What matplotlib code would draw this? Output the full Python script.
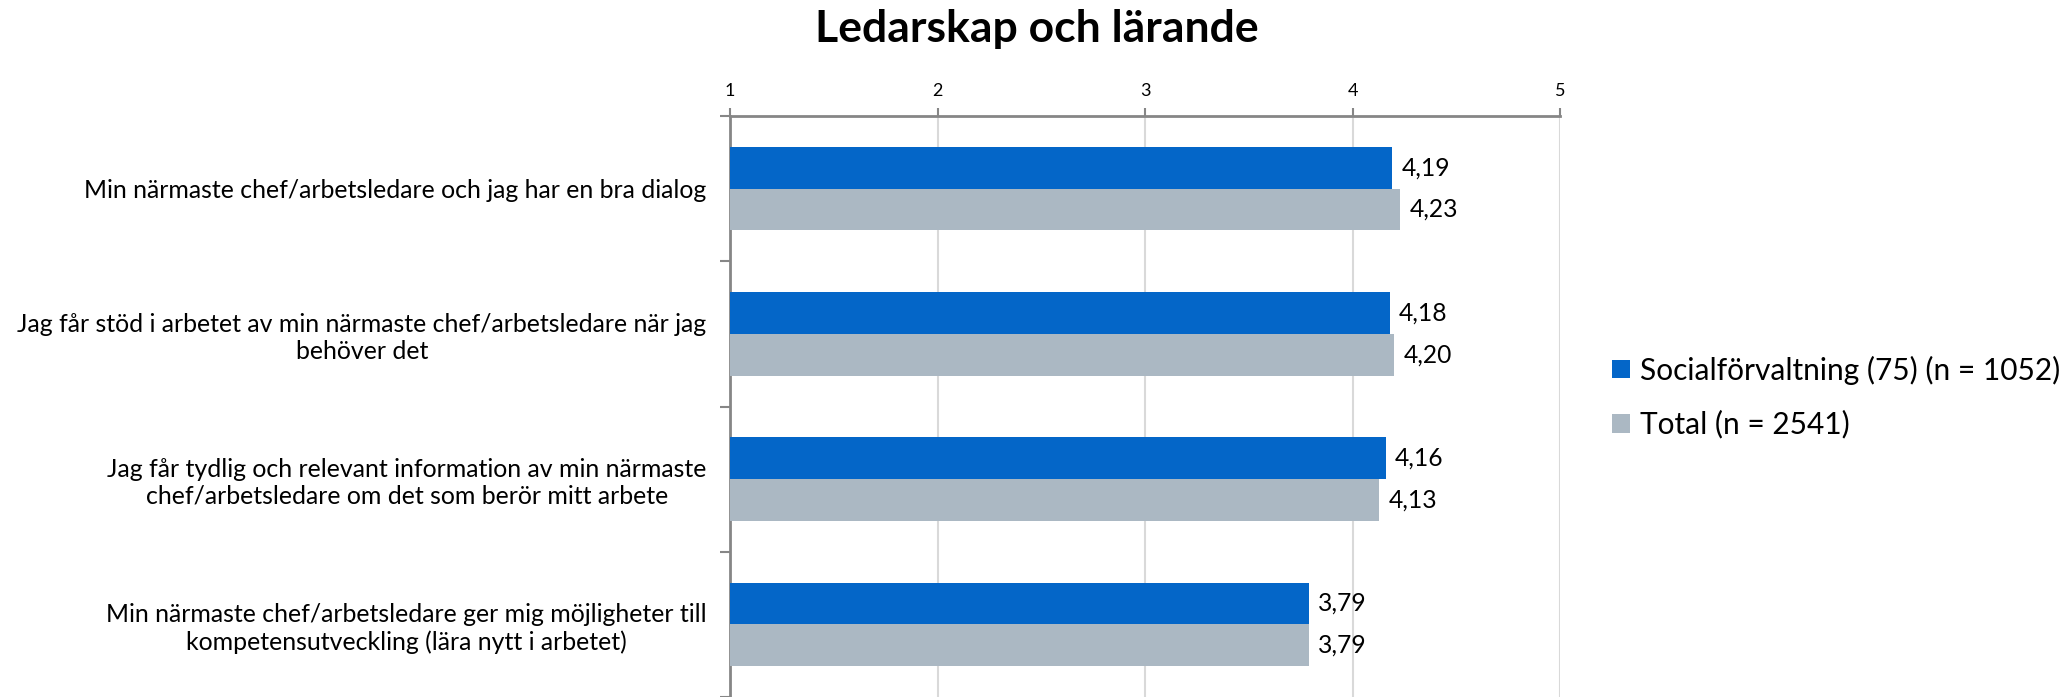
import matplotlib
matplotlib.use("Agg")
import matplotlib.pyplot as plt
import numpy as np
from matplotlib.patches import Patch

categories = [
    "Min närmaste chef/arbetsledare och jag har en bra dialog",
    "Jag får stöd i arbetet av min närmaste chef/arbetsledare när jag\nbehöver det",
    "Jag får tydlig och relevant information av min närmaste\nchef/arbetsledare om det som berör mitt arbete",
    "Min närmaste chef/arbetsledare ger mig möjligheter till\nkompetensutveckling (lära nytt i arbetet)",
]
series_names = ["Socialförvaltning (75) (n = 1052)", "Total (n = 2541)"]
social = [4.19, 4.18, 4.16, 3.79]
total = [4.23, 4.20, 4.13, 3.79]
xticks = [1, 2, 3, 4, 5]
title = "Ledarskap och lärande"

colors = ["#0466C8", "#ABB8C3"]
FONT = "Lato"
plt.rcParams["font.family"] = [FONT, "DejaVu Sans"]

fig = plt.figure(figsize=(20.69, 6.97), dpi=100)
ax = fig.add_axes([730/2069, 0.0, (1560-730)/2069, 1-116/697])

n = len(categories)
y = np.arange(n)
h = 0.287
ax.barh(y - h/2, np.array(social) - 1, left=1, height=h, color=colors[0], zorder=3)
ax.barh(y + h/2, np.array(total) - 1, left=1, height=h, color=colors[1], zorder=3)

for vals, off in ((social, -h/2), (total, h/2)):
    for i, v in enumerate(vals):
        ax.text(v + 0.045, i + off, f"{v:.2f}".replace(".", ","), va="center", ha="left",
                fontsize=17.7, color="#000000")

ax.set_xlim(1, 5)
ax.set_ylim(n - 0.5, -0.5)
ax.xaxis.tick_top()
ax.set_xticks(xticks)
ax.set_xticklabels([str(t) for t in xticks], fontsize=13)
ax.tick_params(axis="x", which="major", length=6, color="#868686", width=1.5, pad=6)
ax.grid(axis="x", color="#D9D9D9", linewidth=1.5, zorder=0)

ax.set_yticks(y)
ax.set_yticklabels(categories, fontsize=17.9, multialignment="center")
ax.tick_params(axis="y", which="major", length=0, pad=17)
ax.set_yticks(np.arange(-0.5, n + 0.5, 1), minor=True)
ax.tick_params(axis="y", which="minor", length=7, color="#868686", width=1.5)

for s in ("right", "bottom"):
    ax.spines[s].set_visible(False)
for s in ("top", "left"):
    ax.spines[s].set_color("#868686")
    ax.spines[s].set_linewidth(2)

fig.text(1037/2069, 1 - 29/697, title, ha="center", va="center", fontsize=32, fontweight="bold")

handles = [Patch(facecolor=c, edgecolor="none") for c in colors]
fig.legend(handles, series_names, loc="center left", bbox_to_anchor=(1612/2069, 1 - 397/697),
           frameon=False, fontsize=21.5, handlelength=0.6, handleheight=0.6,
           handletextpad=0.35, labelspacing=0.85, borderpad=0, borderaxespad=0)

fig.savefig("out.png", dpi=100)
